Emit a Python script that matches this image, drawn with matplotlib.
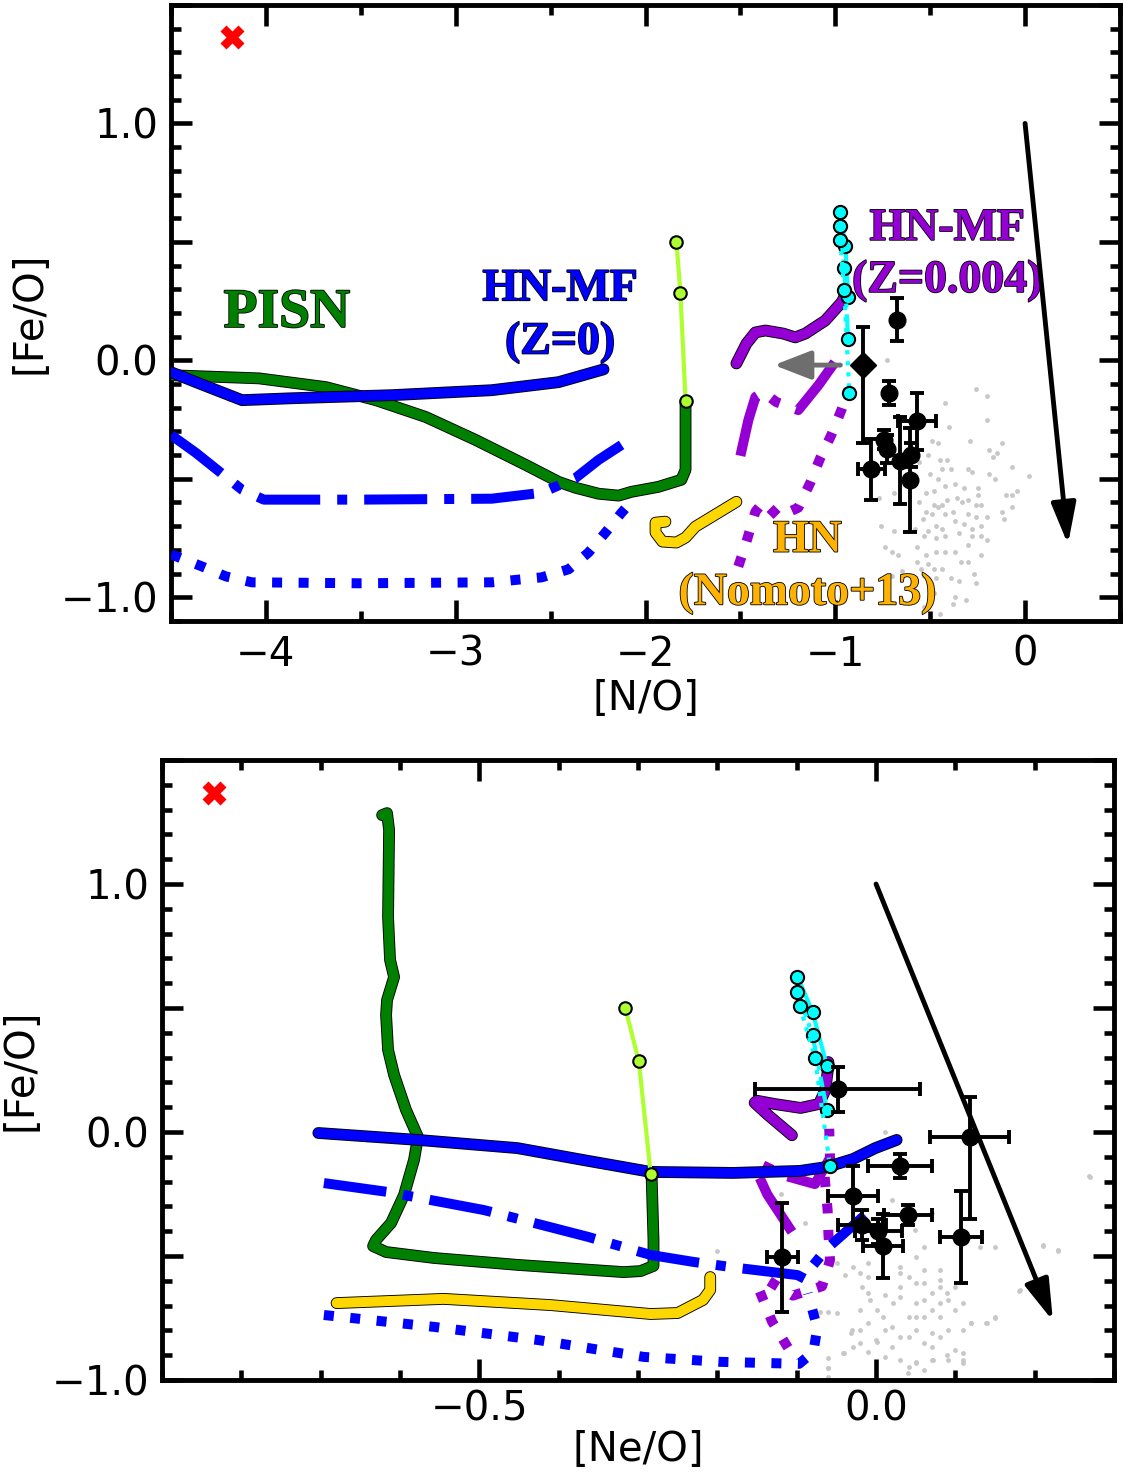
import matplotlib
matplotlib.use("Agg")
import matplotlib.pyplot as plt
import matplotlib.patheffects as pe
from matplotlib.ticker import MultipleLocator, FuncFormatter

plt.rcParams['font.family'] = ['DejaVu Sans']
plt.rcParams['font.size'] = 29
plt.rcParams['axes.linewidth'] = 3.5

BLUE = '#0000FF'
GREEN = '#008000'
PURPLE = '#9400D3'
GOLD = '#FFD700'
ORANGE = '#FFB300'
LIME = '#ADFF2F'
CYAN = '#00FFFF'
GREY = '#C8C8C8'

# ---------------- observed objects (shared [Fe/O]) ----------------
obs_feo = [0.172, -0.02, -0.137, -0.257, -0.335, -0.423, -0.505, -0.375, -0.40, -0.46]
obs_feo_lo = [0.09, 0.33, 0.05, 0.12, 0.04, 0.185, 0.22, 0.06, 0.05, 0.13]
obs_feo_hi = [0.09, 0.16, 0.05, 0.12, 0.04, 0.185, 0.22, 0.06, 0.05, 0.13]
obs_no = [-0.674, -0.853, -0.716, -0.568, -0.742, -0.66, -0.605, -0.73, -0.60, -0.81]
obs_no_err = [0, 0, 0, 0.10, 0, 0, 0, 0, 0, 0.07]
obs_neo = [-0.048, 0.118, 0.030, -0.029, 0.040, 0.107, -0.118, -0.018, 0.003, 0.009]
obs_neo_err = [0.104, 0.05, 0.04, 0.031, 0.03, 0.026, 0.02, 0.03, 0.03, 0.025]
no_upper_limit_len = 0.47   # leftward arrow on the [N/O] upper limit (object 2)

# object with extreme Fe enrichment
xmark_no, xmark_neo, xmark_feo = -4.18, -0.835, 1.366

# reddening-like vector
vec_start = (0.0, 1.0)
vec_end_top = (0.226, -0.777)
vec_end_bot = (0.223, -0.762)

# ---------------- comparison sample (grey) ----------------
grey_no = [-0.26, -0.20, -0.42, -0.20, -0.40, -0.29, -0.12, -0.19, -0.15, -0.49, -0.46, -0.51, -0.45,
           -0.41, -0.17, -0.07, -0.30, -0.28, -0.44, -0.39, 0.02, -0.16, -0.19, -0.46, -0.42, -0.37,
           -0.32, -0.25, -0.52, -0.48, -0.04, -0.10, -0.07, -0.25, -0.30, -0.36, -0.41, -0.44, -0.48,
           -0.52, -0.46, -0.33, -0.26, -0.23, -0.07, -0.12, -0.20, -0.26, -0.30, -0.38, -0.42, -0.49,
           -0.54, -0.11, -0.23, -0.28, -0.32, -0.37, -0.44, -0.47, -0.51, -0.58, -0.53, -0.47, -0.42,
           -0.35, -0.28, -0.23, -0.20, -0.76, -0.69, -0.74, -0.70, -0.67, -0.57, -0.52, -0.47, -0.42,
           -0.37, -0.30, -0.23, -0.34, -0.30, -0.57, -0.51, -0.55, -0.48, -0.44, -0.70, -0.65, -0.53,
           -0.47, -0.39, -0.35, -0.27, -0.26, -0.48, -0.37, -0.31, -0.53, -0.45, -0.38, -0.77, -0.69,
           -0.56, -0.56, -0.50, -0.73]
grey_no_feo = [-0.12, -0.15, -0.18, -0.25, -0.28, -0.34, -0.35, -0.38, -0.39, -0.34, -0.35, -0.40, -0.42,
               -0.42, -0.41, -0.45, -0.46, -0.47, -0.46, -0.46, -0.49, -0.50, -0.48, -0.50, -0.53, -0.52,
               -0.54, -0.54, -0.56, -0.55, -0.55, -0.57, -0.57, -0.57, -0.59, -0.58, -0.59, -0.61, -0.61,
               -0.64, -0.62, -0.60, -0.61, -0.61, -0.62, -0.64, -0.66, -0.66, -0.65, -0.64, -0.65, -0.65,
               -0.67, -0.67, -0.70, -0.71, -0.69, -0.68, -0.71, -0.70, -0.72, -0.71, -0.74, -0.75, -0.74,
               -0.73, -0.74, -0.74, -0.76, -0.70, -0.72, -0.79, -0.81, -0.82, -0.79, -0.82, -0.81, -0.81,
               -0.81, -0.78, -0.82, -0.85, -0.85, -0.85, -0.86, -0.88, -0.88, -0.88, -0.91, -0.89, -0.91,
               -0.92, -0.92, -0.93, -0.90, -0.94, -0.98, -1.00, -1.01, -1.04, -1.07, -1.03, -0.58, -0.56,
               -0.43, -0.60, -0.48, 0.00]
grey_neo = [-0.089, -0.049, -0.039, -0.029, -0.020, -0.010, -0.010, -0.018, -0.010, -0.008, -0.020, 0.001,
            0.011, 0.009, 0.020, 0.022, 0.030, 0.030, 0.030, 0.030, 0.041, 0.041, 0.049, 0.051, 0.051,
            0.051, 0.051, 0.060, 0.060, 0.060, 0.060, 0.060, 0.070, 0.070, 0.070, 0.081, 0.081, 0.081,
            0.081, 0.091, 0.091, 0.099, 0.099, 0.110, 0.110, 0.120, 0.131, 0.150, 0.150, 0.139, -0.031,
            -0.020, -0.010, 0.001, 0.011, 0.020, 0.030, 0.041, 0.051, 0.060, 0.070, 0.081, 0.091, 0.099,
            0.110, 0.072, 0.051, 0.030, 0.011, -0.010, -0.029, -0.041, -0.049, -0.060, -0.070, -0.060,
            -0.060, 0.110, 0.041, 0.181, 0.210, 0.229, 0.269, 0.020, 0.070, 0.081, 0.089, 0.011, -0.12,
            -0.20, 0.27, 0.21, 0.23, 0.18, 0.15, 0.14, 0.12, -0.06, -0.06, -0.04, -0.02, -0.03, 0.00,
            0.04, 0.05, 0.07, 0.09, 0.11, 0.06]
grey_neo_feo = [-0.366, -0.530, -0.577, -0.546, -0.570, -0.530, -0.583, -0.624, -0.651, -0.677, -0.718,
                -0.718, -0.657, -0.745, -0.785, -0.691, -0.543, -0.570, -0.624, -0.664, -0.583, -0.745,
                -0.395, -0.503, -0.610, -0.691, -0.745, -0.462, -0.556, -0.610, -0.677, -0.745, -0.651,
                -0.718, -0.812, -0.556, -0.624, -0.691, -0.745, -0.677, -0.798, -0.624, -0.718, -0.691,
                -0.798, -0.772, -0.462, -0.462, -0.745, -0.772, -0.812, -0.798, -0.772, -0.845, -0.798,
                -0.866, -0.825, -0.825, -0.798, -0.852, -0.866, -0.825, -0.919, -0.879, -0.892, -0.919,
                -0.926, -0.919, -0.906, -0.886, -0.866, -0.892, -0.731, -0.724, -0.724, -0.913, -0.953,
                -0.933, -0.946, -0.637, -0.456, -0.476, -0.177, -0.274, -0.328, -0.597, -0.651, 0.00,
                -0.25, -0.48, -0.18, -0.46, -0.48, -0.64, -0.75, -0.77, -0.77, -0.95, -0.99, -0.89, -0.85,
                -0.80, -0.84, -0.97, -0.93, -0.92, -0.90, -0.92, -0.96]

# ---------------- model tracks: top panel ([N/O], [Fe/O]) ----------------
pisn_no = [-4.495, -4.037, -3.684, -3.421, -3.158, -2.895, -2.632, -2.458, -2.368, -2.247, -2.142,
           -2.074, -1.932, -1.811, -1.789, -1.789]
pisn_no_feo = [-0.063, -0.076, -0.113, -0.168, -0.239, -0.336, -0.441, -0.513, -0.538, -0.563, -0.571,
               -0.555, -0.534, -0.504, -0.462, -0.172]
hnmf0_sol_no = [-4.50, -4.353, -4.126, -3.863, -3.337, -2.811, -2.458, -2.221]
hnmf0_sol_no_feo = [-0.050, -0.097, -0.168, -0.160, -0.147, -0.126, -0.092, -0.038]
hnmf0_dd_no = [-4.50, -4.368, -4.126, -4.011, -3.511, -2.811, -2.547, -2.368, -2.247, -2.126]
hnmf0_dd_no_feo = [-0.315, -0.391, -0.546, -0.588, -0.588, -0.584, -0.559, -0.496, -0.420, -0.357]
hnmf0_dot_no = [-4.50, -4.337, -4.211, -4.074, -3.511, -2.811, -2.547, -2.405, -2.300, -2.211, -2.126, -2.079]
hnmf0_dot_no_feo = [-0.819, -0.870, -0.912, -0.937, -0.941, -0.937, -0.916, -0.882, -0.811, -0.727, -0.643, -0.601]
hnmf4_sol_no = [-1.521, -1.468, -1.421, -1.368, -1.274, -1.211, -1.158, -1.053, -0.968, -0.942]
hnmf4_sol_no_feo = [-0.013, 0.071, 0.118, 0.126, 0.113, 0.097, 0.113, 0.168, 0.244, 0.282]
hnmf4_dd_no = [-1.500, -1.458, -1.421, -1.379, -1.311, -1.195, -1.089, -0.984]
hnmf4_dd_no_feo = [-0.403, -0.252, -0.155, -0.134, -0.176, -0.210, -0.105, 0.013]
hnmf4_dot_no = [-1.511, -1.468, -1.421, -1.379, -1.300, -1.195, -1.132, -1.079, -1.021, -0.968, -0.932]
hnmf4_dot_no_feo = [-0.870, -0.765, -0.639, -0.597, -0.660, -0.622, -0.517, -0.412, -0.315, -0.210, -0.126]
hn13_no = [-1.521, -1.737, -1.789, -1.837, -1.911, -1.947, -1.947, -1.895]
hn13_no_feo = [-0.597, -0.702, -0.748, -0.769, -0.765, -0.727, -0.685, -0.681]

# ---------------- model tracks: bottom panel ([Ne/O], [Fe/O]) ----------------
pisn_neo = [-0.6226, -0.6164, -0.6138, -0.6151, -0.6126, -0.6075, -0.6164, -0.6176, -0.6151, -0.6075,
            -0.5925, -0.5774, -0.5824, -0.5950, -0.6113, -0.6302, -0.6340, -0.6176, -0.5572, -0.4516,
            -0.3182, -0.2969, -0.2805, -0.2805, -0.2830]
pisn_neo_feo = [1.278, 1.286, 1.218, 0.867, 0.694, 0.625, 0.532, 0.472, 0.331, 0.230, 0.089, -0.020,
                -0.113, -0.254, -0.367, -0.435, -0.460, -0.484, -0.508, -0.536, -0.565, -0.561, -0.540,
                -0.435, -0.165]
hnmf0_sol_neo = [-0.703, -0.577, -0.452, -0.369, -0.284, -0.180, -0.096, -0.062, -0.029, -0.001, 0.026]
hnmf0_sol_neo_feo = [-0.004, -0.032, -0.065, -0.113, -0.161, -0.165, -0.157, -0.141, -0.109, -0.065, -0.032]
hnmf0_dd_neo = [-0.696, -0.615, -0.494, -0.363, -0.284, -0.230, -0.175, -0.099, -0.090, -0.080, -0.062, -0.014]
hnmf0_dd_neo_feo = [-0.206, -0.242, -0.315, -0.423, -0.496, -0.524, -0.548, -0.577, -0.592, -0.540, -0.470, -0.335]
hnmf0_dot_neo = [-0.696, -0.557, -0.426, -0.293, -0.196, -0.097, -0.079, -0.074, -0.086]
hnmf0_dot_neo_feo = [-0.738, -0.786, -0.839, -0.907, -0.927, -0.935, -0.887, -0.790, -0.650]
hnmf4_sol_neo = [-0.106, -0.137, -0.153, -0.150, -0.128, -0.095, -0.072, -0.064, -0.061, -0.060]
hnmf4_dd_neo = [-0.106, -0.137, -0.151, -0.143, -0.115, -0.077, -0.058, -0.059]
hnmf4_dot_neo = [-0.111, -0.131, -0.147, -0.137, -0.105, -0.068, -0.058, -0.060, -0.061, -0.064, -0.066]
hn13_neo = [-0.209, -0.209, -0.218, -0.250, -0.284, -0.410, -0.545, -0.680]
hn13_neo_feo = [-0.585, -0.637, -0.677, -0.730, -0.734, -0.698, -0.673, -0.690]

# three-point tracks with markers (shared [Fe/O])
lime_feo = [0.50, 0.285, -0.17]
lime_no = [-1.837, -1.816, -1.789]
lime_neo = [-0.316, -0.299, -0.284]
cyan_feo = [[0.627, 0.484, 0.268], [0.566, 0.391, 0.090], [0.508, 0.298, -0.138]]
cyan_no = [[-0.974, -0.947, -0.932], [-0.974, -0.953, -0.932], [-0.974, -0.953, -0.926]]
cyan_neo = [[-0.099, -0.080, -0.062], [-0.099, -0.080, -0.062], [-0.096, -0.077, -0.058]]

LW = 7.2
DASHDOT = (0, (6.3, 1.7, 1.0, 1.7))
DOTTED = (0, (1.0, 1.65))


def track(ax, x, y, color, ls='-', lw=LW, z=3, edge=True):
    kw = dict(color=color, lw=lw, ls=ls, zorder=z, solid_capstyle='round',
              solid_joinstyle='round', dash_capstyle='butt')
    if edge and ls == '-':
        kw['path_effects'] = [pe.Stroke(linewidth=lw + 1.3, foreground='black'), pe.Normal()]
    ax.plot(x, y, **kw)


def label(ax, x, y, s, color, size):
    ax.text(x, y, s, color=color, fontsize=size, family='Liberation Serif', weight='bold',
            ha='center', va='center', zorder=9,
            path_effects=[pe.Stroke(linewidth=1.2, foreground='black'), pe.Normal()])


def style_axes(ax, xmaj, xmin):
    ax.xaxis.set_major_locator(MultipleLocator(xmaj))
    ax.xaxis.set_minor_locator(MultipleLocator(xmin))
    ax.yaxis.set_major_locator(MultipleLocator(0.5))
    ax.yaxis.set_minor_locator(MultipleLocator(0.1))
    ax.yaxis.set_major_formatter(FuncFormatter(
        lambda v, p: ('%.1f' % v).replace('-', '\u2212') if abs(v - round(v)) < 1e-6 else ''))
    ax.tick_params(which='both', direction='in', top=True, right=True, width=3.3, labelsize=29)
    ax.tick_params(axis='x', pad=10)
    ax.tick_params(axis='y', pad=9)
    ax.tick_params(which='major', length=15)
    ax.tick_params(which='minor', length=7.5)
    ax.set_ylabel('[Fe/O]', fontsize=29, labelpad=8)


def observations(ax, xs, xerr):
    for i in range(len(obs_feo)):
        ax.errorbar(xs[i], obs_feo[i], yerr=[[obs_feo_lo[i]], [obs_feo_hi[i]]],
                    xerr=xerr[i] if xerr[i] > 0 else None,
                    fmt='o', ms=12, color='black', ecolor='black', elinewidth=2.8,
                    capsize=4.8, capthick=2.8, zorder=7)


fig = plt.figure(figsize=(11.23, 14.77), dpi=100)
ax1 = fig.add_axes([0.1523, 0.5796, 0.8450, 0.4170])
ax2 = fig.add_axes([0.1443, 0.0657, 0.8477, 0.4197])

# ===================== top: [Fe/O] vs [N/O] =====================
ax1.plot(grey_no, grey_no_feo, 'o', ms=3.5, color=GREY, mec='none', zorder=1)
track(ax1, hn13_no, hn13_no_feo, GOLD, z=2)
track(ax1, pisn_no, pisn_no_feo, GREEN, z=3)
track(ax1, hnmf4_sol_no, hnmf4_sol_no_feo, PURPLE, z=3)
track(ax1, hnmf4_dd_no, hnmf4_dd_no_feo, PURPLE, ls=DASHDOT, z=3)
track(ax1, hnmf4_dot_no, hnmf4_dot_no_feo, PURPLE, ls=DOTTED, z=3)
track(ax1, hnmf0_sol_no, hnmf0_sol_no_feo, BLUE, z=4)
track(ax1, hnmf0_dd_no, hnmf0_dd_no_feo, BLUE, ls=DASHDOT, z=4)
track(ax1, hnmf0_dot_no, hnmf0_dot_no_feo, BLUE, ls=DOTTED, z=4)
ax1.plot(lime_no, lime_feo, '-o', color=LIME, lw=3, ms=9, mec='black', mew=1.5, zorder=5)
for xs, ys, ls in zip(cyan_no, cyan_feo, ['-', '-.', ':']):
    ax1.plot(xs, ys, ls=ls, marker='o', color=CYAN, lw=3, ms=9.5, mec='black', mew=1.5, zorder=5)

observations(ax1, obs_no, obs_no_err)
# upper limit on [N/O] for object 2 drawn as a diamond
ax1.plot(obs_no[1], obs_feo[1], 'D', ms=13, color='black', zorder=8)
ax1.annotate('', xy=(obs_no[1] - no_upper_limit_len, obs_feo[1]),
             xytext=(obs_no[1] - 0.12, obs_feo[1]),
             arrowprops=dict(arrowstyle='-|>,head_length=0.9,head_width=0.35', lw=3.5,
                             color='#6E6E6E', mutation_scale=25, shrinkA=0, shrinkB=0), zorder=6)
ax1.annotate('', xy=vec_end_top, xytext=vec_start,
             arrowprops=dict(arrowstyle='-|>,head_length=1.0,head_width=0.3', lw=3.5,
                             color='black', mutation_scale=25, shrinkA=0, shrinkB=0), zorder=10)
ax1.plot(xmark_no, xmark_feo, 'X', ms=17, color='red', mec='none', zorder=8)

label(ax1, -3.89, 0.20, 'PISN', GREEN, 40)
label(ax1, -2.45, 0.30, 'HN-MF', BLUE, 33)
label(ax1, -2.45, 0.076, '(Z=0)', BLUE, 33)
label(ax1, -0.41, 0.555, 'HN-MF', PURPLE, 33)
label(ax1, -0.41, 0.336, '(Z=0.004)', PURPLE, 33)
label(ax1, -1.147, -0.761, 'HN', ORANGE, 33)
label(ax1, -1.147, -0.983, '(Nomoto+13)', ORANGE, 33)

ax1.set_xlim(-4.5, 0.5)
ax1.set_ylim(-1.1, 1.5)
style_axes(ax1, 1.0, 0.5)
ax1.set_xlabel('[N/O]', fontsize=29, labelpad=3)

# ===================== bottom: [Fe/O] vs [Ne/O] =====================
ax2.plot(grey_neo, grey_neo_feo, 'o', ms=3.5, color=GREY, mec='none', zorder=1)
track(ax2, hn13_neo, hn13_neo_feo, GOLD, z=2)
track(ax2, pisn_neo, pisn_neo_feo, GREEN, z=3)
track(ax2, hnmf4_sol_neo, hnmf4_sol_no_feo, PURPLE, z=3)
track(ax2, hnmf4_dd_neo, hnmf4_dd_no_feo, PURPLE, ls=DASHDOT, z=3)
track(ax2, hnmf4_dot_neo, hnmf4_dot_no_feo, PURPLE, ls=DOTTED, z=3)
track(ax2, hnmf0_sol_neo, hnmf0_sol_neo_feo, BLUE, z=4)
track(ax2, hnmf0_dd_neo, hnmf0_dd_neo_feo, BLUE, ls=DASHDOT, z=4)
track(ax2, hnmf0_dot_neo, hnmf0_dot_neo_feo, BLUE, ls=DOTTED, z=4)
ax2.plot(lime_neo, lime_feo, '-o', color=LIME, lw=3, ms=9, mec='black', mew=1.5, zorder=5)
for xs, ys, ls in zip(cyan_neo, cyan_feo, ['-', '-.', ':']):
    ax2.plot(xs, ys, ls=ls, marker='o', color=CYAN, lw=3, ms=9.5, mec='black', mew=1.5, zorder=5)

observations(ax2, obs_neo, obs_neo_err)
ax2.annotate('', xy=vec_end_bot, xytext=vec_start,
             arrowprops=dict(arrowstyle='-|>,head_length=1.0,head_width=0.3', lw=3.5,
                             color='black', mutation_scale=25, shrinkA=0, shrinkB=0), zorder=10)
ax2.plot(xmark_neo, xmark_feo, 'X', ms=17, color='red', mec='none', zorder=8)

ax2.set_xlim(-0.9, 0.3)
ax2.set_ylim(-1.0, 1.5)
style_axes(ax2, 0.5, 0.1)
ax2.tick_params(axis='x', pad=7)
ax2.set_xlabel('[Ne/O]', fontsize=29, labelpad=0)

fig.savefig('out.png', dpi=100)
